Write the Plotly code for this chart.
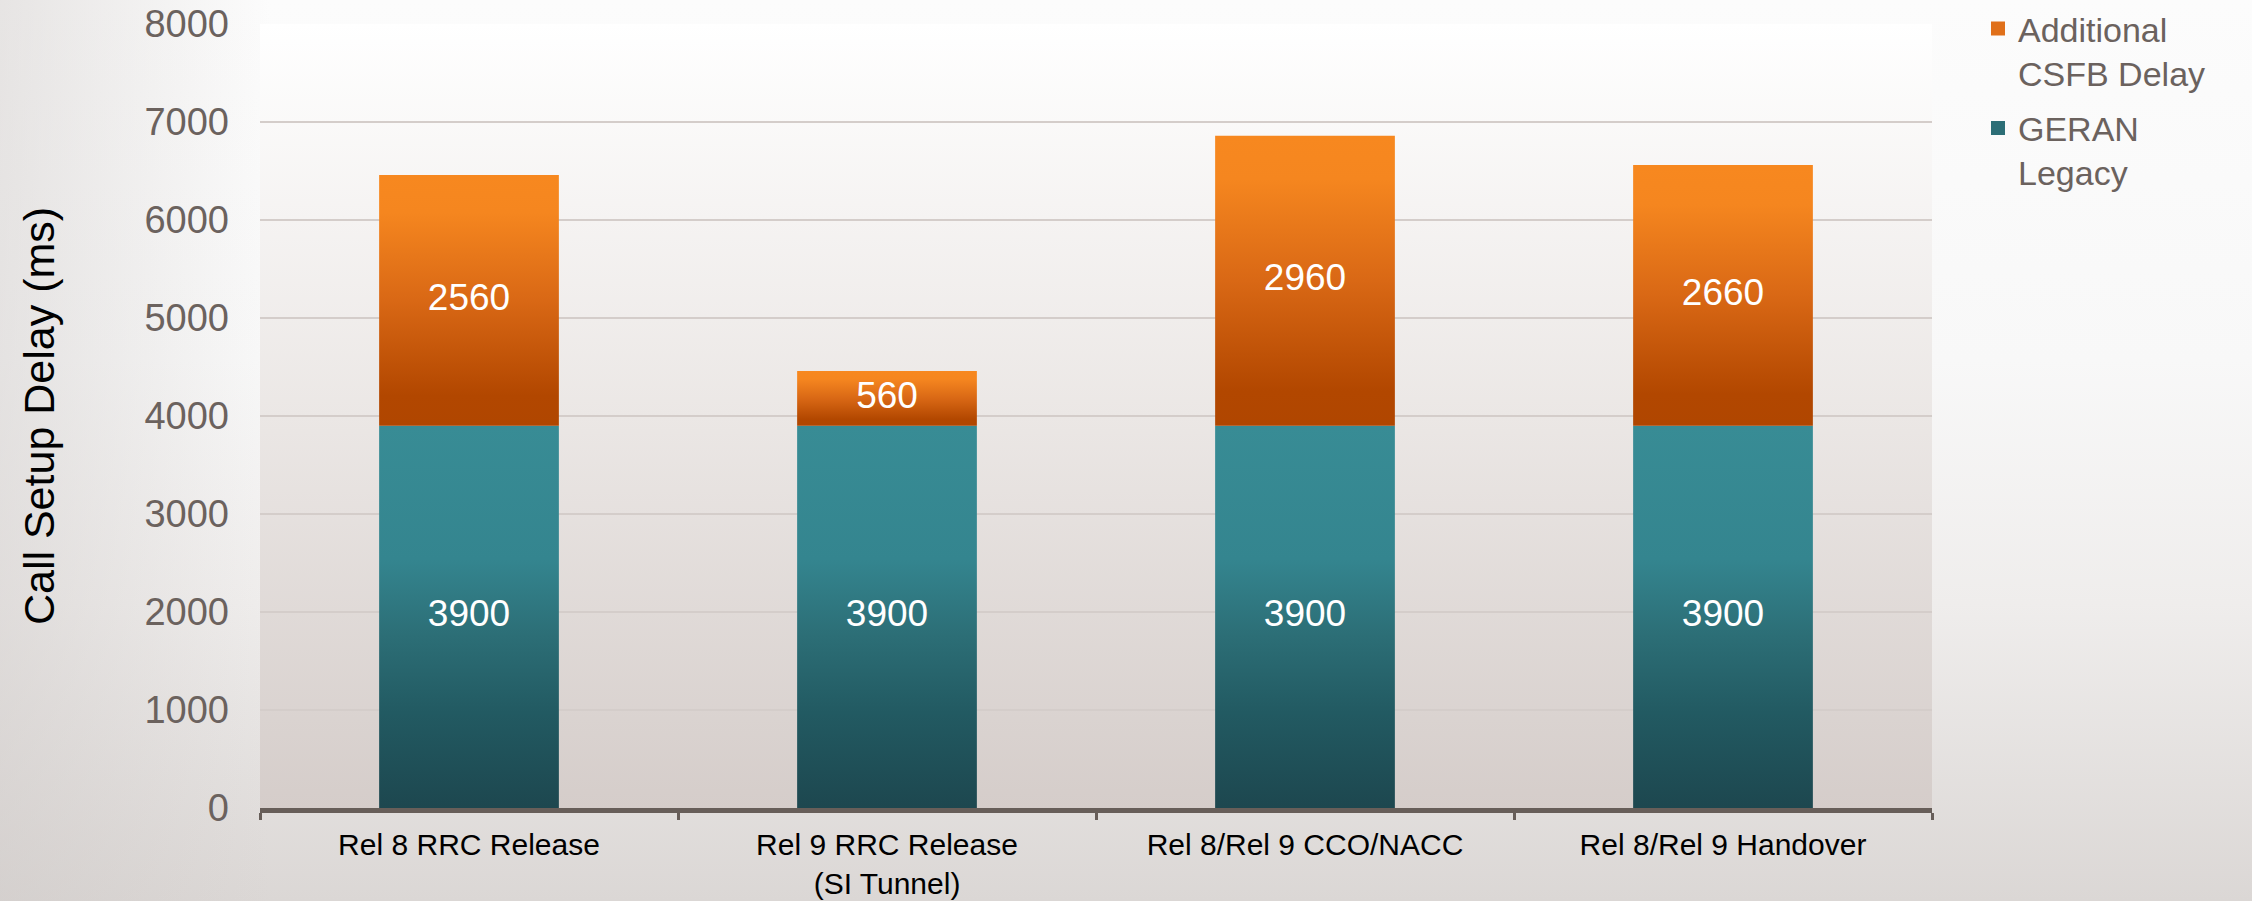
import plotly.graph_objects as go

# Call setup delay per CSFB mechanism (ms)
categories = [
    "Rel 8 RRC Release",
    "Rel 9 RRC Release<br>(SI Tunnel)",
    "Rel 8/Rel 9 CCO/NACC",
    "Rel 8/Rel 9 Handover",
]
geran_legacy = [3900, 3900, 3900, 3900]
csfb_delay = [2560, 560, 2960, 2660]
y_ticks = [0, 1000, 2000, 3000, 4000, 5000, 6000, 7000, 8000]

W, H = 2252, 901
BAR_W = 0.43

# plot-area domain inside the page
x_dom = [260 / W, 1932 / W]
y_dom = [(H - 808) / H, (H - 24) / H]

GREY_TXT = "#6B625E"
FONT = "Liberation Sans, Arial, sans-serif"

teal_scale = [
    [0.0, "#1D474F"], [0.25, "#225A62"], [0.45, "#2C6E76"],
    [0.65, "#34858F"], [1.0, "#388C95"],
]
orange_scale = [
    [0.0, "#B04600"], [0.12, "#B24700"], [0.5, "#D96815"],
    [0.85, "#F5861F"], [1.0, "#F7881F"],
]

fig = go.Figure()

# page background and plot-area background (subplot x/y spans the page)
fig.add_trace(go.Scatter(
    x=[0, 1, 1, 0, 0], y=[0, 0, 1, 1, 0], mode="none", fill="toself",
    fillgradient=dict(type="vertical", colorscale=[
        [0.0, "#DBD7D5"], [0.33, "#EFEDEC"], [0.6, "#F8F8F8"], [1.0, "#FCFCFC"]]),
    xaxis="x", yaxis="y", showlegend=False, hoverinfo="skip",
))
fig.add_trace(go.Scatter(
    x=[0, 0.12, 0.12, 0, 0], y=[0, 0, 1, 1, 0], mode="none", fill="toself",
    fillgradient=dict(type="horizontal", colorscale=[
        [0.0, "rgba(205,200,198,0.45)"], [1.0, "rgba(205,200,198,0)"]]),
    xaxis="x", yaxis="y", showlegend=False, hoverinfo="skip",
))
fig.add_trace(go.Scatter(
    x=[x_dom[0], x_dom[1], x_dom[1], x_dom[0], x_dom[0]],
    y=[y_dom[0], y_dom[0], y_dom[1], y_dom[1], y_dom[0]],
    mode="none", fill="toself",
    fillgradient=dict(type="vertical", colorscale=[
        [0.0, "#D5CDCA"], [0.5, "#EBE7E5"], [1.0, "#FFFFFF"]]),
    xaxis="x", yaxis="y", showlegend=False, hoverinfo="skip",
))


def segment(i, base, value, scale):
    x0, x1 = i - BAR_W / 2, i + BAR_W / 2
    return go.Scatter(
        x=[x0, x1, x1, x0, x0],
        y=[base, base, base + value, base + value, base],
        mode="none", fill="toself",
        fillgradient=dict(type="vertical", colorscale=scale),
        xaxis="x2", yaxis="y2", showlegend=False, hoverinfo="skip",
    )


# gradient-filled stacked segments
for i, (g, c) in enumerate(zip(geran_legacy, csfb_delay)):
    fig.add_trace(segment(i, 0, g, teal_scale))
    fig.add_trace(segment(i, g, c, orange_scale))

# value labels centred in each segment
idx = list(range(len(categories)))
label_font = dict(family=FONT, size=37, color="white")
fig.add_trace(go.Scatter(
    x=idx, y=[g / 2 for g in geran_legacy], mode="text",
    text=[str(v) for v in geran_legacy], textposition="middle center",
    textfont=label_font, xaxis="x2", yaxis="y2", showlegend=False, hoverinfo="skip",
))
fig.add_trace(go.Scatter(
    x=idx, y=[g + c / 2 for g, c in zip(geran_legacy, csfb_delay)], mode="text",
    text=[str(v) for v in csfb_delay], textposition="middle center",
    textfont=label_font, xaxis="x2", yaxis="y2", showlegend=False, hoverinfo="skip",
))

# legend entries
fig.add_trace(go.Bar(
    x=[None], y=[None], name="Additional<br>CSFB Delay",
    marker=dict(color="#E0701A", line=dict(color="#E0701A", width=2)),
    legendgroup="csfb", xaxis="x2", yaxis="y2",
))
fig.add_trace(go.Bar(
    x=[None], y=[None], name="GERAN<br>Legacy",
    marker=dict(color="#2C6E76", line=dict(color="#2C6E76", width=2)),
    legendgroup="geran", xaxis="x2", yaxis="y2",
))

fig.update_layout(
    width=W, height=H,
    margin=dict(l=0, r=0, t=0, b=0),
    paper_bgcolor="#FCFCFC",
    plot_bgcolor="rgba(0,0,0,0)",
    barmode="stack",
    font=dict(family=FONT, color=GREY_TXT),
    hovermode=False,
    xaxis=dict(domain=[0, 1], range=[0, 1], visible=False, fixedrange=True, anchor="y"),
    yaxis=dict(domain=[0, 1], range=[0, 1], visible=False, fixedrange=True, anchor="x"),
    xaxis2=dict(
        domain=x_dom, range=[-0.5, 3.5], anchor="y2",
        tickmode="array", tickvals=idx, ticktext=categories,
        ticks="", showgrid=False, zeroline=False,
        showline=True, linewidth=5, linecolor="#675E59",
        tickfont=dict(family=FONT, size=30, color="#000000"),
        ticklabelstandoff=6,
        minor=dict(tickmode="array", tickvals=[-0.5, 0.5, 1.5, 2.5, 3.5],
                   ticks="outside", ticklen=7, tickwidth=3, tickcolor="#675E59",
                   showgrid=False),
        automargin=False,
    ),
    yaxis2=dict(
        domain=y_dom, range=[0, 8000], anchor="x2",
        tickmode="array", tickvals=y_ticks,
        showgrid=True, gridcolor="#D4CDCA", gridwidth=2,
        zeroline=False, showline=False, ticks="",
        tickfont=dict(family=FONT, size=38, color=GREY_TXT),
        ticklabelstandoff=30,
        title=dict(text="Call Setup Delay (ms)", standoff=76,
                   font=dict(family=FONT, size=43, color="#000000")),
        automargin=False,
    ),
    legend=dict(
        x=1978 / W, y=1.0, xanchor="left", yanchor="top",
        traceorder="grouped", tracegroupgap=8, valign="top",
        bgcolor="rgba(0,0,0,0)",
        font=dict(family=FONT, size=34, color=GREY_TXT),
    ),
)

fig.write_html("out.html")
